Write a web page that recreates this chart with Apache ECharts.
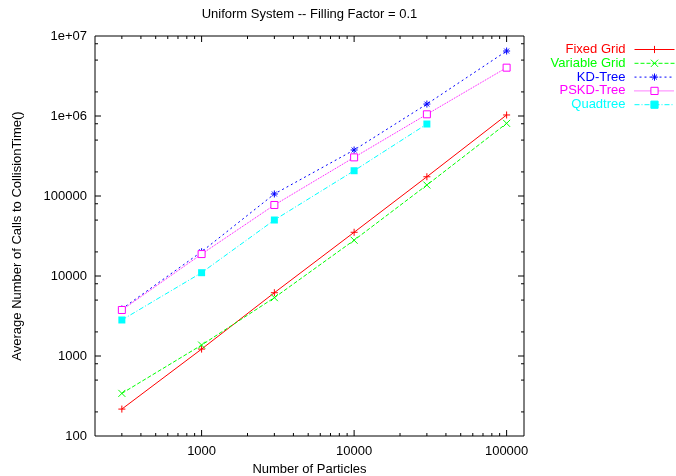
<!DOCTYPE html>
<html>
<head>
<meta charset="utf-8">
<script src="https://cdn.jsdelivr.net/npm/echarts@6/dist/echarts.min.js"></script>
<style>html,body{margin:0;padding:0;background:#fff}#c{width:676px;height:476px}</style>
</head>
<body>
<div id="c"></div>
<script>
// ---- data ----
const particles = [300, 1000, 3000, 10000, 30000, 100000];
const fixedGrid    = [217, 1220, 6180, 35200, 174000, 1030000];
const variableGrid = [341, 1370, 5360, 28000, 137000, 809000];
const kdTree       = [3870, 20100, 106000, 376000, 1410000, 6490000];
const pskdTree     = [3760, 18800, 77200, 304000, 1050000, 4020000];
const quadtree     = [2820, 11000, 50100, 207000, 794000];
const seriesNames  = ['Fixed Grid', 'Variable Grid', 'KD-Tree', 'PSKD-Tree', 'Quadtree'];

const xRange = [200, 130000];
const yRange = [100, 10000000];
const xMajorTicks = [1000, 10000, 100000];
const xMinorTicks = [300, 400, 500, 600, 700, 800, 900,
                     2000, 3000, 4000, 5000, 6000, 7000, 8000, 9000,
                     20000, 30000, 40000, 50000, 60000, 70000, 80000, 90000];
const yMajorTicks = [1000, 10000, 100000, 1000000];
const yMinorTicks = [200, 500, 800, 2000, 5000, 8000, 20000, 50000, 80000,
                     200000, 500000, 800000, 2000000, 5000000, 8000000];

// ---- chart ----
const FONT = '"Liberation Sans", Arial, Helvetica, sans-serif';
const colors = ['#ff0000', '#00ff00', '#0000ff', '#ff00ff', '#00ffff'];
const dashes = ['solid', [4, 2], [2, 3], [1, 1], [5, 2, 1, 2]];
const symbols = [
  'path://M0,5H10M5,0V10',
  'path://M0,0L10,10M10,0L0,10',
  'path://M0,5H10M5,0V10M1.5,1.5L8.5,8.5M8.5,1.5L1.5,8.5',
  'path://M0,0H10V10H0Z',
  'rect'
];
const symbolSizes = [7, 7, 7, 7, 7];
const fills = ['#ff0000', '#00ff00', '#0000ff', '#ffffff', '#00ffff'];
const values = [fixedGrid, variableGrid, kdTree, pskdTree, quadtree];

function pairs(xs, ys) { return ys.map((y, i) => [xs[i], y]); }

const dataSeries = seriesNames.map((name, i) => ({
  name: name,
  type: 'line',
  data: pairs(particles, values[i]),
  symbol: symbols[i],
  symbolSize: symbolSizes[i],
  symbolKeepAspect: true,
  showAllSymbol: true,
  lineStyle: { color: colors[i], width: 1, type: dashes[i] },
  itemStyle: { color: fills[i], borderColor: colors[i], borderWidth: i === 4 ? 0 : 1 },
  emphasis: { disabled: true },
  z: 3
}));

function tickSeries(vals, isX, len) {
  return {
    type: 'custom',
    silent: true,
    z: 5,
    data: vals.map(v => isX ? [v, yRange[0]] : [xRange[0], v]),
    renderItem: function (params, api) {
      const v = api.value(isX ? 0 : 1);
      let a, b, p1, p2;
      if (isX) {
        a = api.coord([v, yRange[0]]);
        b = api.coord([v, yRange[1]]);
        p1 = [[a[0], a[1]], [a[0], a[1] - len]];
        p2 = [[b[0], b[1]], [b[0], b[1] + len]];
      } else {
        a = api.coord([xRange[0], v]);
        b = api.coord([xRange[1], v]);
        p1 = [[a[0], a[1]], [a[0] + len, a[1]]];
        p2 = [[b[0], b[1]], [b[0] - len, b[1]]];
      }
      const st = { stroke: '#000', lineWidth: 1 };
      return {
        type: 'group',
        children: [
          { type: 'polyline', shape: { points: p1 }, style: st },
          { type: 'polyline', shape: { points: p2 }, style: st }
        ]
      };
    }
  };
}

const chart = echarts.init(document.getElementById('c'), null, { renderer: 'canvas' });
chart.setOption({
  animation: false,
  backgroundColor: '#fff',
  textStyle: { fontFamily: FONT },
  title: {
    text: 'Uniform System -- Filling Factor = 0.1',
    left: 309.5,
    textAlign: 'center',
    top: 8,
    padding: 0,
    textStyle: { fontFamily: FONT, fontSize: 13, fontWeight: 'normal', color: '#000' }
  },
  grid: {
    left: 95, top: 36, right: 152, bottom: 40,
    outerBoundsMode: 'none',
    containLabel: false,
    show: true, borderColor: '#000', borderWidth: 1, backgroundColor: 'transparent'
  },
  legend: {
    orient: 'vertical',
    align: 'right',
    right: 1,
    top: 43,
    padding: 0,
    itemWidth: 40,
    itemHeight: 9,
    itemGap: 0.8,
    selectedMode: false,
    lineStyle: { width: 1 },
    itemStyle: { borderWidth: 1 },
    data: seriesNames.map((n, i) => ({
      name: n,
      textStyle: { color: colors[i], fontSize: 13, fontFamily: FONT, lineHeight: 11, padding: [0, 4, 0, 0] }
    }))
  },
  xAxis: {
    type: 'log',
    logBase: 10,
    min: xRange[0],
    max: xRange[1],
    name: 'Number of Particles',
    nameLocation: 'middle',
    nameGap: 26,
    nameTextStyle: { fontSize: 13, color: '#000', fontFamily: FONT },
    axisLine: { show: false },
    axisTick: { show: false },
    splitLine: { show: false },
    axisLabel: {
      fontSize: 13, color: '#000', margin: 9, fontFamily: FONT,
      showMinLabel: false, showMaxLabel: false,
      formatter: v => String(Math.round(v))
    }
  },
  yAxis: {
    type: 'log',
    logBase: 10,
    min: yRange[0],
    max: yRange[1],
    name: 'Average Number of Calls to CollisionTime()',
    nameLocation: 'middle',
    nameGap: 71,
    nameTextStyle: { fontSize: 13, color: '#000', fontFamily: FONT },
    axisLine: { show: false },
    axisTick: { show: false },
    splitLine: { show: false },
    axisLabel: {
      fontSize: 13, color: '#000', margin: 8, fontFamily: FONT,
      formatter: function (v) {
        const r = Math.round(v);
        if (r >= 1000000) {
          const e = Math.round(Math.log10(r));
          return '1e+' + String(e).padStart(2, '0');
        }
        return String(r);
      }
    }
  },
  series: dataSeries.concat([
    tickSeries(xMajorTicks, true, 6),
    tickSeries(xMinorTicks, true, 3),
    tickSeries(yMajorTicks, false, 6),
    tickSeries(yMinorTicks, false, 3)
  ])
});
</script>
</body>
</html>
